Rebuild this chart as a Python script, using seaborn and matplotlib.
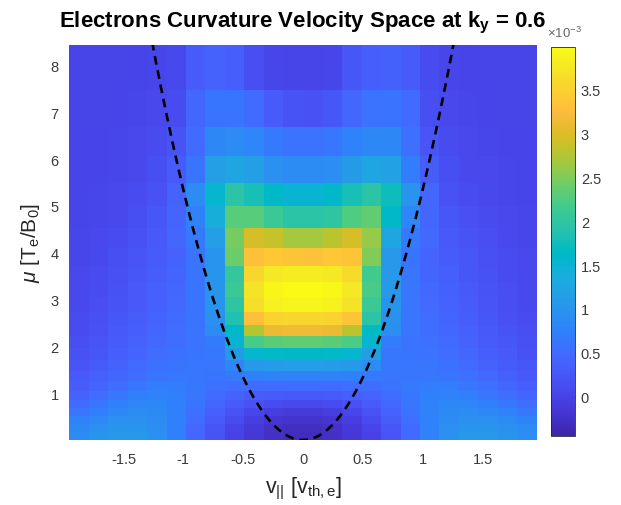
import numpy as np
import matplotlib
matplotlib.use("Agg")
import matplotlib.pyplot as plt
from matplotlib.colors import LinearSegmentedColormap
import seaborn as sns

# ---- velocity-space grid (cell edges) ----
v_par_edges = [-1.955, -1.792, -1.629, -1.466, -1.303, -1.140, -0.978, -0.815,
               -0.652, -0.489, -0.326, -0.163, 0.0, 0.163, 0.326, 0.489,
               0.652, 0.815, 0.978, 1.140, 1.303, 1.466, 1.629, 1.792, 1.955]
mu_edges = [0.0, 0.17, 0.34, 0.51, 0.68, 0.85, 1.04, 1.26, 1.47, 1.70, 1.96,
            2.22, 2.45, 2.74, 3.06, 3.38, 3.72, 4.11, 4.53, 5.00, 5.50, 6.07,
            6.69, 7.47, 8.44]

# ---- curvature contribution, units of 1e-3, rows from low to high mu ----
curv_rows = [
    [0.90, 1.00, 1.05, 1.05, 0.95, 0.72, 0.45, 0.20, 0.00, -0.15, -0.27, -0.32, -0.32, -0.27, -0.15, 0.00, 0.22, 0.48, 0.75, 0.97, 1.05, 1.05, 1.00, 0.92],
    [0.85, 0.95, 1.00, 1.00, 0.92, 0.72, 0.47, 0.22, 0.02, -0.13, -0.25, -0.30, -0.30, -0.25, -0.13, 0.03, 0.24, 0.50, 0.75, 0.93, 1.00, 1.00, 0.95, 0.87],
    [0.75, 0.86, 0.93, 0.95, 0.90, 0.73, 0.52, 0.30, 0.10, -0.06, -0.17, -0.22, -0.22, -0.17, -0.06, 0.11, 0.32, 0.55, 0.75, 0.90, 0.95, 0.93, 0.87, 0.77],
    [0.62, 0.74, 0.84, 0.88, 0.86, 0.74, 0.56, 0.38, 0.20, 0.04, -0.06, -0.10, -0.10, -0.06, 0.05, 0.21, 0.40, 0.58, 0.75, 0.86, 0.88, 0.84, 0.75, 0.64],
    [0.50, 0.62, 0.73, 0.80, 0.82, 0.74, 0.60, 0.45, 0.30, 0.18, 0.11, 0.08, 0.08, 0.11, 0.19, 0.31, 0.47, 0.62, 0.75, 0.82, 0.80, 0.73, 0.63, 0.52],
    [0.40, 0.52, 0.63, 0.72, 0.76, 0.72, 0.62, 0.50, 0.40, 0.33, 0.30, 0.29, 0.29, 0.30, 0.34, 0.41, 0.52, 0.64, 0.73, 0.76, 0.72, 0.63, 0.53, 0.42],
    [0.32, 0.43, 0.54, 0.64, 0.70, 0.70, 0.64, 0.57, 0.52, 0.50, 0.50, 0.50, 0.50, 0.50, 0.51, 0.53, 0.58, 0.66, 0.71, 0.70, 0.64, 0.55, 0.44, 0.34],
    [0.28, 0.36, 0.45, 0.54, 0.60, 0.63, 0.62, 0.60, 0.65, 0.74, 0.76, 0.76, 0.76, 0.76, 0.74, 0.66, 0.61, 0.62, 0.63, 0.60, 0.55, 0.46, 0.37, 0.29],
    [0.22, 0.30, 0.39, 0.48, 0.56, 0.60, 0.61, 0.62, 0.85, 1.08, 1.12, 1.13, 1.13, 1.12, 1.08, 0.88, 0.63, 0.62, 0.61, 0.57, 0.49, 0.40, 0.31, 0.23],
    [0.18, 0.26, 0.34, 0.43, 0.51, 0.57, 0.60, 0.63, 1.10, 1.55, 1.62, 1.63, 1.63, 1.62, 1.55, 1.15, 0.64, 0.60, 0.58, 0.52, 0.44, 0.35, 0.27, 0.19],
    [0.15, 0.22, 0.30, 0.39, 0.47, 0.54, 0.59, 0.68, 1.50, 2.20, 2.32, 2.35, 2.35, 2.32, 2.22, 1.55, 0.70, 0.59, 0.55, 0.48, 0.40, 0.31, 0.23, 0.16],
    [0.12, 0.19, 0.27, 0.35, 0.44, 0.52, 0.60, 0.90, 1.60, 2.75, 3.10, 3.15, 3.15, 3.10, 2.80, 1.65, 0.92, 0.61, 0.53, 0.45, 0.36, 0.28, 0.20, 0.13],
    [0.10, 0.16, 0.24, 0.32, 0.41, 0.50, 0.60, 0.95, 1.85, 3.30, 3.50, 3.55, 3.55, 3.50, 3.35, 1.95, 0.97, 0.61, 0.51, 0.42, 0.33, 0.25, 0.17, 0.11],
    [0.08, 0.14, 0.21, 0.29, 0.38, 0.47, 0.60, 1.00, 2.00, 3.65, 3.85, 3.90, 3.90, 3.87, 3.70, 2.10, 1.02, 0.61, 0.48, 0.39, 0.30, 0.22, 0.15, 0.09],
    [0.07, 0.12, 0.19, 0.27, 0.36, 0.45, 0.60, 1.02, 2.10, 3.70, 3.92, 3.97, 3.97, 3.94, 3.75, 2.20, 1.05, 0.61, 0.46, 0.37, 0.28, 0.20, 0.13, 0.08],
    [0.06, 0.10, 0.17, 0.24, 0.33, 0.42, 0.60, 1.02, 2.05, 3.55, 3.75, 3.80, 3.80, 3.77, 3.60, 2.15, 1.05, 0.61, 0.43, 0.34, 0.25, 0.18, 0.11, 0.07],
    [0.05, 0.09, 0.15, 0.22, 0.30, 0.40, 0.60, 1.00, 2.40, 3.30, 3.40, 3.35, 3.32, 3.38, 3.35, 2.50, 1.05, 0.60, 0.41, 0.31, 0.23, 0.16, 0.10, 0.06],
    [0.04, 0.07, 0.12, 0.19, 0.27, 0.45, 0.65, 1.15, 2.45, 2.95, 2.85, 2.68, 2.68, 2.80, 2.95, 2.60, 1.25, 0.65, 0.47, 0.28, 0.20, 0.13, 0.08, 0.05],
    [0.03, 0.05, 0.09, 0.15, 0.23, 0.42, 0.75, 1.40, 2.30, 2.30, 2.10, 1.95, 1.95, 2.00, 2.25, 2.35, 1.60, 0.80, 0.45, 0.24, 0.16, 0.10, 0.06, 0.04],
    [0.03, 0.04, 0.07, 0.11, 0.18, 0.40, 0.90, 1.55, 1.95, 1.80, 1.60, 1.52, 1.52, 1.58, 1.80, 1.95, 1.75, 1.00, 0.45, 0.19, 0.12, 0.08, 0.05, 0.03],
    [0.02, 0.03, 0.05, 0.08, 0.15, 0.30, 0.60, 1.15, 1.25, 1.15, 0.95, 0.88, 0.88, 0.92, 1.10, 1.25, 1.20, 0.70, 0.32, 0.15, 0.09, 0.06, 0.04, 0.02],
    [0.02, 0.03, 0.04, 0.06, 0.10, 0.20, 0.50, 0.85, 0.88, 0.80, 0.65, 0.58, 0.58, 0.62, 0.75, 0.85, 0.85, 0.55, 0.22, 0.10, 0.06, 0.04, 0.03, 0.02],
    [0.02, 0.02, 0.03, 0.04, 0.06, 0.12, 0.45, 0.60, 0.60, 0.50, 0.30, 0.20, 0.18, 0.25, 0.45, 0.58, 0.60, 0.50, 0.15, 0.06, 0.04, 0.03, 0.02, 0.02],
    [0.02, 0.02, 0.02, 0.03, 0.04, 0.08, 0.30, 0.40, 0.35, 0.15, 0.05, 0.02, 0.02, 0.05, 0.25, 0.35, 0.38, 0.30, 0.12, 0.04, 0.03, 0.02, 0.02, 0.02],
]

# colour limits (units of 1e-3)
c_min, c_max = -0.445, 3.98
cbar_ticks = [0, 0.5, 1, 1.5, 2, 2.5, 3, 3.5]
x_ticks = [-1.5, -1, -0.5, 0, 0.5, 1, 1.5]
y_ticks = [1, 2, 3, 4, 5, 6, 7, 8]

# trapped/passing boundary mu = coeff * v_par^2
trap_coeff = 5.35

# parula colour map anchors
parula_rgb = [
    (0.2422, 0.1504, 0.6603), (0.2504, 0.1650, 0.7076), (0.2578, 0.1818, 0.7511),
    (0.2647, 0.1978, 0.7952), (0.2706, 0.2147, 0.8364), (0.2751, 0.2342, 0.8710),
    (0.2783, 0.2559, 0.8991), (0.2803, 0.2782, 0.9221), (0.2813, 0.3006, 0.9414),
    (0.2810, 0.3228, 0.9579), (0.2795, 0.3447, 0.9717), (0.2760, 0.3667, 0.9829),
    (0.2699, 0.3892, 0.9906), (0.2602, 0.4123, 0.9952), (0.2440, 0.4358, 0.9988),
    (0.2206, 0.4603, 0.9973), (0.1963, 0.4847, 0.9892), (0.1834, 0.5074, 0.9798),
    (0.1786, 0.5289, 0.9682), (0.1764, 0.5499, 0.9520), (0.1687, 0.5703, 0.9359),
    (0.1540, 0.5902, 0.9218), (0.1460, 0.6091, 0.9079), (0.1380, 0.6276, 0.8973),
    (0.1248, 0.6459, 0.8883), (0.1113, 0.6635, 0.8763), (0.0952, 0.6798, 0.8598),
    (0.0689, 0.6948, 0.8394), (0.0297, 0.7082, 0.8163), (0.0036, 0.7203, 0.7917),
    (0.0067, 0.7312, 0.7660), (0.0433, 0.7411, 0.7394), (0.0964, 0.7500, 0.7120),
    (0.1408, 0.7584, 0.6842), (0.1717, 0.7670, 0.6554), (0.1938, 0.7758, 0.6251),
    (0.2161, 0.7843, 0.5923), (0.2470, 0.7918, 0.5567), (0.2906, 0.7973, 0.5188),
    (0.3406, 0.8008, 0.4789), (0.3909, 0.8029, 0.4354), (0.4456, 0.8024, 0.3909),
    (0.5044, 0.7993, 0.3480), (0.5616, 0.7942, 0.3045), (0.6174, 0.7876, 0.2612),
    (0.6720, 0.7793, 0.2227), (0.7242, 0.7698, 0.1910), (0.7738, 0.7598, 0.1646),
    (0.8203, 0.7498, 0.1535), (0.8634, 0.7406, 0.1596), (0.9035, 0.7330, 0.1774),
    (0.9393, 0.7288, 0.2100), (0.9728, 0.7298, 0.2394), (0.9956, 0.7434, 0.2371),
    (0.9970, 0.7659, 0.2199), (0.9952, 0.7893, 0.2028), (0.9892, 0.8136, 0.1885),
    (0.9786, 0.8386, 0.1766), (0.9676, 0.8639, 0.1643), (0.9610, 0.8890, 0.1537),
    (0.9597, 0.9135, 0.1423), (0.9628, 0.9373, 0.1265), (0.9691, 0.9606, 0.1064),
    (0.9769, 0.9839, 0.0805),
]
parula = LinearSegmentedColormap.from_list("parula", parula_rgb, N=256)

# ---- styling ----
sns.set_theme(style="white")
plt.rcParams["font.family"] = ["Liberation Sans", "DejaVu Sans"]
plt.rcParams["mathtext.fontset"] = "custom"
plt.rcParams["mathtext.rm"] = "Liberation Sans"
plt.rcParams["mathtext.it"] = "Liberation Sans:italic"
plt.rcParams["mathtext.bf"] = "Liberation Sans:bold"
plt.rcParams["axes.unicode_minus"] = False

W, H = 621, 506
fig = plt.figure(figsize=(W / 100, H / 100), dpi=100)
ax = fig.add_axes([69 / W, (H - 441) / H, 468 / W, 395 / H])
cax = fig.add_axes([551 / W, (H - 437) / H, 23.5 / W, 389 / H])

field = np.array(curv_rows)
mesh = ax.pcolormesh(v_par_edges, mu_edges, field, cmap=parula,
                     vmin=c_min, vmax=c_max, shading="flat")

# trapped-passing boundary
v_curve = np.linspace(-1.4, 1.4, 401)
boundary = {"v": v_curve, "mu": trap_coeff * v_curve ** 2}
sns.lineplot(data=boundary, x="v", y="mu", ax=ax, color="black",
             linewidth=1.9, linestyle=(0, (3.3, 2.2)), sort=False)

tick_col = "#3a3a3a"
ax.set_xlim(v_par_edges[0], v_par_edges[-1])
ax.set_ylim(mu_edges[0], mu_edges[-1])
ax.set_xticks(x_ticks)
ax.set_xticklabels([f"{t:g}" for t in x_ticks])
ax.set_yticks(y_ticks)
ax.set_yticklabels([f"{t:g}" for t in y_ticks])
ax.tick_params(axis="both", length=0, labelsize=10.5, labelcolor=tick_col)
ax.tick_params(axis="x", pad=8.5)
ax.tick_params(axis="y", pad=7.5)
for s in ax.spines.values():
    s.set_visible(False)

ax.set_xlabel(r"v$_{||}$ [v$_{\mathrm{th,e}}$]", fontsize=15.5, color="#262626")
ax.xaxis.set_label_coords(0.5, -0.088)
ax.set_ylabel(r"$\mu$ [T$_\mathrm{e}$/B$_0$]", fontsize=15, color="#262626")
ax.yaxis.set_label_coords(-0.058, 0.5)

fig.text(303 / W, 1 - 27 / H, r"Electrons Curvature Velocity Space at k$_\mathbf{y}$ = 0.6",
         ha="center", va="baseline", fontsize=16, fontweight="bold", color="black")

cbar = fig.colorbar(mesh, cax=cax, ticks=cbar_ticks)
cbar.ax.set_yticklabels([f"{t:g}" for t in cbar_ticks])
cbar.ax.tick_params(direction="in", length=3.5, width=0.6, color="#262626",
                    labelsize=10.5, labelcolor=tick_col, pad=4.5)
cbar.outline.set_edgecolor("#262626")
cbar.outline.set_linewidth(0.6)
fig.text(547 / W, 1 - 38 / H, r"$\times$10$^{-3}$", ha="left", va="baseline",
         fontsize=9.5, color="#666666")

fig.savefig("out.png", dpi=100)
